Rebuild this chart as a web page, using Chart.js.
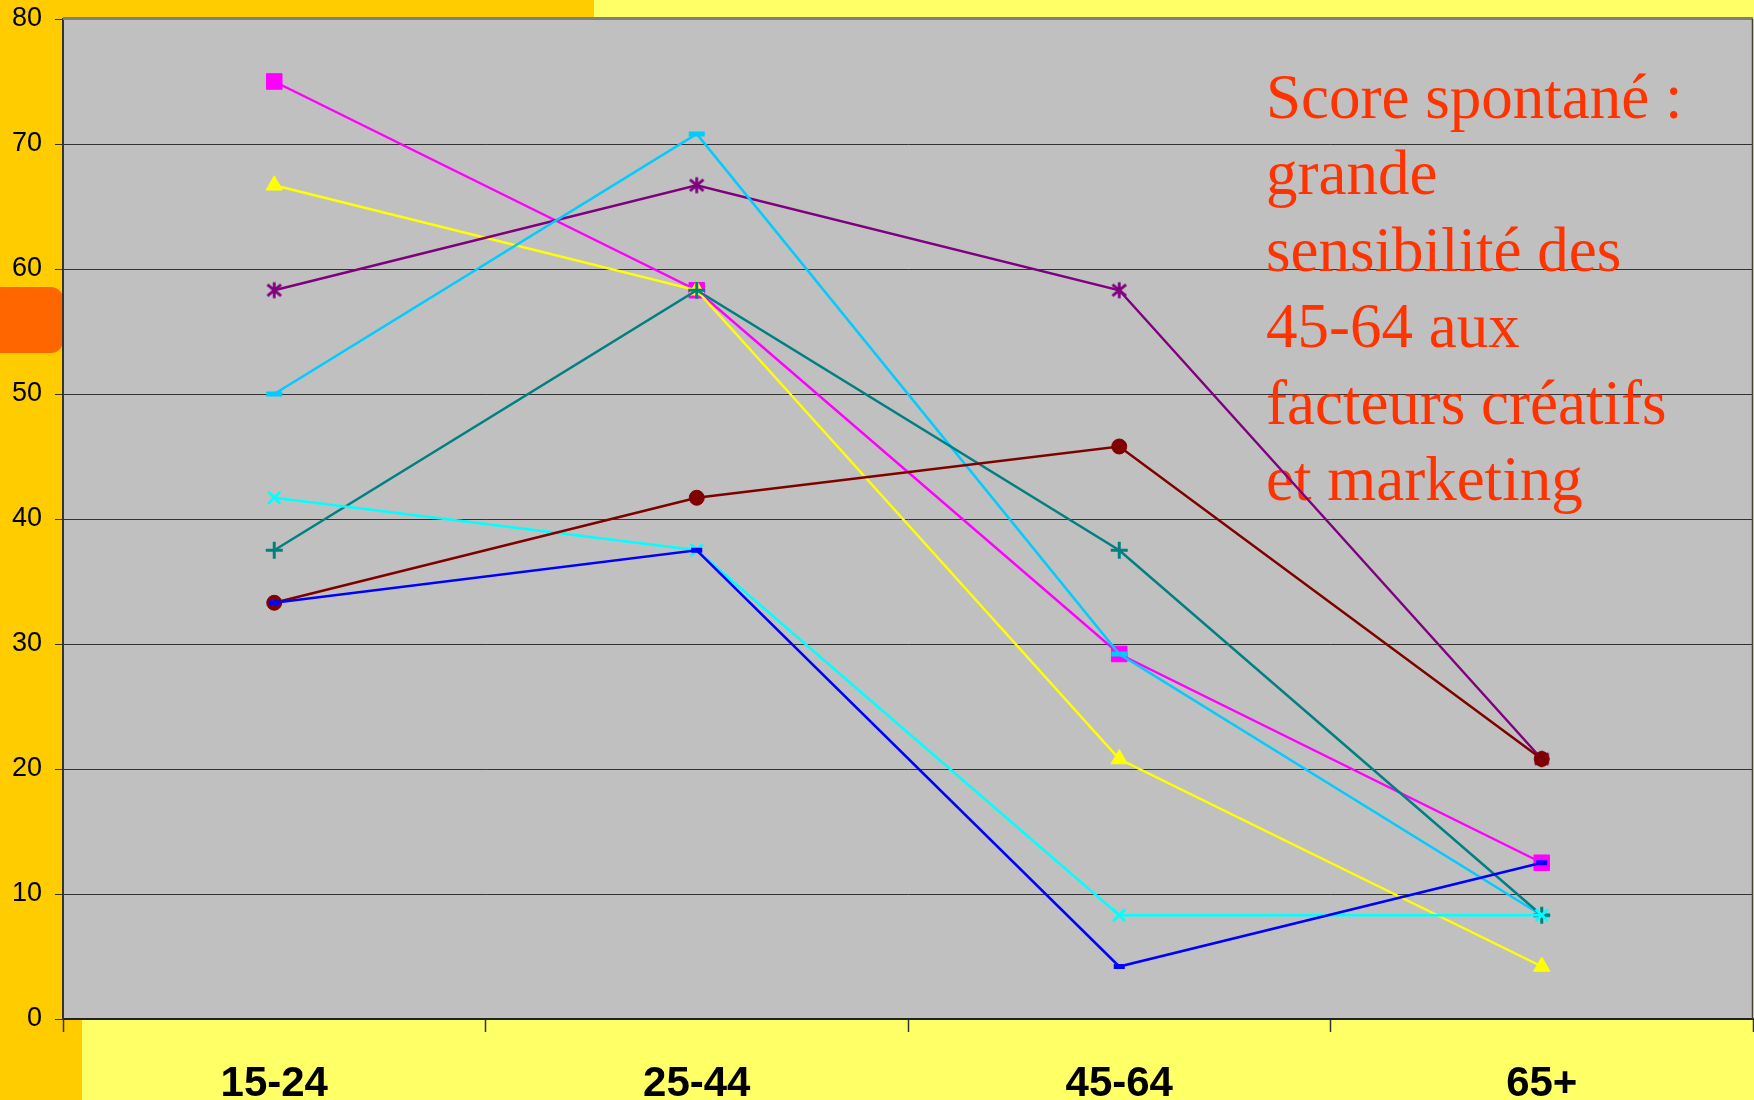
<!DOCTYPE html>
<html lang="fr">
<head>
<meta charset="utf-8">
<title>Score spontané par tranche d'âge</title>
<script src="https://cdn.jsdelivr.net/npm/chart.js@4/dist/chart.umd.min.js"></script>
<style>
  html, body { margin: 0; padding: 0; background: #FFFF66; }
  #wrap { width: 1754px; height: 1100px; position: relative; }
  canvas { display: block; }
</style>
</head>
<body>
<div id="wrap"><canvas id="chart" width="1754" height="1100"></canvas></div>
<script>
// Tranches d'âge
const categories = ['15-24', '25-44', '45-64', '65+'];

// Scores (%) par tranche d'âge, une série par facteur
const serie1 = [75, 58.3, 29.2, 12.5];    // magenta, carrés
const serie2 = [66.7, 58.3, 20.8, 4.2];   // jaune, triangles
const serie3 = [58.3, 66.7, 58.3, 20.8];  // violet, étoiles
const serie4 = [50, 70.8, 29.2, 8.3];     // bleu ciel, tirets
const serie5 = [37.5, 58.3, 37.5, 8.3];   // sarcelle, croix droites
const serie6 = [41.7, 37.5, 8.3, 8.3];    // cyan, croix obliques
const serie7 = [33.3, 41.7, 45.8, 20.8];  // bordeaux, ronds
const serie8 = [33.3, 37.5, 4.2, 12.5];   // bleu, tirets

// Graduations de l'axe des valeurs
const yMin = 0;
const yMax = 80;
const yStep = 10;

// Commentaire affiché dans la zone de traçage
const noteLines = [
  'Score spontané :',
  'grande',
  'sensibilité des',
  '45-64 aux',
  'facteurs créatifs',
  'et marketing'
];

// Marqueur « étoile » : croix oblique + trait vertical
function makeStar(color, size, lw) {
  const c = document.createElement('canvas');
  c.width = size; c.height = size;
  const g = c.getContext('2d');
  const m = size / 2, r = size / 2 - 1.5;
  g.strokeStyle = color; g.lineWidth = lw; g.lineCap = 'butt';
  g.beginPath();
  g.moveTo(m, m - r); g.lineTo(m, m + r);
  g.moveTo(m - r * 0.85, m - r * 0.7); g.lineTo(m + r * 0.85, m + r * 0.7);
  g.moveTo(m - r * 0.85, m + r * 0.7); g.lineTo(m + r * 0.85, m - r * 0.7);
  g.stroke();
  return c;
}

function series(label, data, color, style, radius, bw, order) {
  return {
    label, data, order,
    borderColor: color,
    backgroundColor: color,
    borderWidth: 2.5,
    pointStyle: style,
    pointRadius: radius,
    pointHoverRadius: radius,
    pointBorderWidth: bw,
    pointBackgroundColor: color,
    pointBorderColor: color,
    tension: 0,
    fill: false
  };
}

const datasets = [
  series('Série 1', serie1, '#FF00FF', 'rect', 11, 1, 8),
  series('Série 2', serie2, '#FFFF00', 'triangle', 9.5, 1, 7),
  series('Série 3', serie3, '#800080', makeStar('#800080', 19, 2.8), 9.5, 1, 6),
  series('Série 4', serie4, '#00CCFF', 'line', 8, 5, 5),
  series('Série 5', serie5, '#008080', 'cross', 8.5, 3, 4),
  series('Série 6', serie6, '#00FFFF', 'crossRot', 8.5, 2.8, 3),
  series('Série 7', serie7, '#800000', 'circle', 7.5, 1, 2),
  series('Série 8', serie8, '#0000FF', 'line', 5.5, 5, 1)
];

// Fond de la diapositive et de la zone de traçage
const backdrop = {
  id: 'backdrop',
  beforeDraw(chart) {
    const { ctx, chartArea: a, width, height } = chart;
    ctx.save();
    ctx.fillStyle = '#FFFF66';
    ctx.fillRect(0, 0, width, height);
    ctx.fillStyle = '#FFCC00';
    ctx.fillRect(0, 0, 594, a.top);
    ctx.fillRect(0, 0, a.left, height);
    ctx.fillRect(0, a.bottom, 82, height - a.bottom);
    ctx.fillStyle = '#FF6600';
    ctx.beginPath();
    ctx.roundRect(-20, 287, a.left + 20, 66, 12);
    ctx.fill();
    ctx.fillStyle = '#C0C0C0';
    ctx.fillRect(a.left, a.top, a.right - a.left, a.bottom - a.top);
    ctx.restore();
  },
  beforeDatasetsDraw(chart) {
    const { ctx, chartArea: a } = chart;
    ctx.save();
    // cadre de la zone de traçage
    ctx.strokeStyle = '#808080';
    ctx.lineWidth = 3;
    ctx.beginPath();
    ctx.moveTo(a.left, a.top - 0.5); ctx.lineTo(a.right, a.top - 0.5);
    ctx.stroke();
    ctx.strokeStyle = '#404040';
    ctx.lineWidth = 1.5;
    ctx.beginPath();
    ctx.moveTo(a.right - 0.5, a.top); ctx.lineTo(a.right - 0.5, a.bottom);
    ctx.stroke();
    // commentaire
    ctx.fillStyle = '#FF3300';
    ctx.font = '63px "Liberation Serif", "Times New Roman", serif';
    ctx.textAlign = 'left';
    ctx.textBaseline = 'alphabetic';
    noteLines.forEach((t, i) => ctx.fillText(t, 1266, 118 + i * 76.4));
    ctx.restore();
  }
};

// Taille fixe des axes, sans marge automatique pour les libellés
function fixAxis(s, prop, value) {
  s[prop] = value;
  s.paddingTop = 0; s.paddingBottom = 0; s.paddingLeft = 0; s.paddingRight = 0;
}

new Chart(document.getElementById('chart'), {
  type: 'line',
  data: { labels: categories, datasets },
  plugins: [backdrop],
  options: {
    responsive: false,
    animation: false,
    events: [],
    layout: { autoPadding: false, padding: { top: 19, right: 1, left: 0, bottom: 0 } },
    plugins: { legend: { display: false }, tooltip: { enabled: false }, title: { display: false } },
    scales: {
      x: {
        type: 'category',
        offset: true,
        afterFit(s) { fixAxis(s, 'height', 81); },
        grid: { offset: true, drawOnChartArea: false, drawTicks: true, tickLength: 13, tickColor: '#333333', tickWidth: 1.5 },
        border: { display: true, color: '#222222', width: 2 },
        ticks: {
          color: '#000000',
          padding: 27,
          font: { family: '"Liberation Sans", Arial, sans-serif', size: 42, weight: 'bold' }
        }
      },
      y: {
        min: yMin,
        max: yMax,
        afterFit(s) { fixAxis(s, 'width', 63); },
        grid: {
          color: (c) => (c.tick && (c.tick.value === yMax || c.tick.value === yMin)) ? 'rgba(0,0,0,0)' : '#333333',
          lineWidth: 1,
          drawTicks: true,
          tickLength: 8,
          tickColor: '#333333'
        },
        border: { display: true, color: '#333333', width: 2 },
        ticks: {
          stepSize: yStep,
          color: '#000000',
          padding: 13,
          font: { family: '"Liberation Sans", Arial, sans-serif', size: 27 }
        }
      }
    }
  }
});
</script>
</body>
</html>
